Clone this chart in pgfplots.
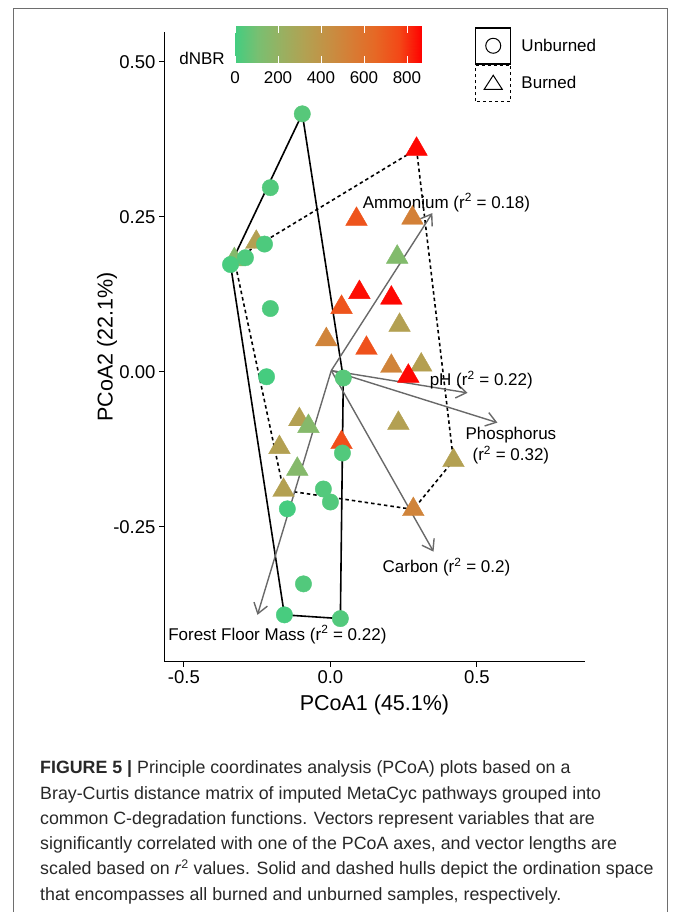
\documentclass[border=0pt]{standalone}
\usepackage{fontspec}
\setmainfont{Liberation Sans}
\usepackage{pgfplots}
\usepackage{pgfplotstable}
\pgfplotsset{compat=1.18}
\usetikzlibrary{arrows.meta}
\definecolor{vec}{RGB}{105,105,105}
\definecolor{framegray}{RGB}{110,110,110}
\definecolor{captext}{RGB}{40,40,40}
\pgfplotsset{colormap={dnbr}{rgb255=(67,205,128) rgb255=(121,191,113) rgb255=(153,176,97) rgb255=(178,161,82) rgb255=(198,143,67) rgb255=(215,124,52) rgb255=(230,104,37) rgb255=(243,72,23) rgb255=(255,0,0)}}

\pgfplotstableread{
x y c
-0.096 0.416 40
-0.205 0.297 30
-0.225 0.206 20
-0.290 0.184 20
-0.341 0.173 10
-0.205 0.102 20
-0.218 -0.008 5
0.044 -0.010 40
0.041 -0.131 30
-0.024 -0.189 30
0.000 -0.210 30
-0.147 -0.221 5
-0.092 -0.342 30
-0.157 -0.392 10
0.034 -0.398 30
}\unburned

\pgfplotstableread{
x y c
0.294 0.359 860
0.089 0.246 720
0.280 0.248 520
0.228 0.185 140
0.099 0.128 850
0.208 0.119 860
0.038 0.104 720
0.236 0.075 330
-0.014 0.052 500
0.123 0.038 730
0.208 0.009 500
0.310 0.011 340
0.266 -0.007 860
-0.106 -0.077 330
-0.075 -0.088 150
0.232 -0.083 330
0.038 -0.114 740
-0.174 -0.122 330
-0.113 -0.157 150
-0.160 -0.191 330
0.283 -0.222 500
0.420 -0.143 330
-0.253 0.209 330
-0.328 0.181 150
}\burned

\begin{document}
\begin{tikzpicture}[x=1pt,y=1pt]
\path[use as bounding box] (0,0) rectangle (673,912);
\draw[framegray, line width=0.8pt] (13.5,0) -- (13.5,904) -- (667,904) -- (667,0);
\begin{axis}[
  at={(164pt,250pt)}, anchor=south west, scale only axis,
  width=421pt, height=630pt,
  xmin=-0.568, xmax=0.869, ymin=-0.468, ymax=0.548,
  axis x line=bottom, axis y line=left,
  axis line style={-, line width=1pt, black},
  x axis line style={-}, y axis line style={-},
  tick align=outside, major tick length=5pt,
  tick style={black, line width=0.9pt},
  xtick={-0.5,0,0.5}, xticklabels={-0.5,0.0,0.5},
  ytick={-0.25,0,0.25,0.5}, yticklabels={-0.25,0.00,0.25,0.50},
  ticklabel style={font=\fontsize{18.5}{18.5}\selectfont},
  xlabel={PCoA1 (45.1\%)}, ylabel={PCoA2 (22.1\%)},
  label style={font=\fontsize{21.5}{21.5}\selectfont},
  xlabel style={at={(axis description cs:0.5,-0.0683)}, anchor=center},
  ylabel style={at={(axis description cs:-0.1354,0.5)}, anchor=center},
  colormap name=dnbr, point meta min=0, point meta max=870,
  legend style={at={(0.7387,1.0079)}, anchor=north west, draw=none, fill=none,
    inner sep=0pt, outer sep=0pt, row sep=0pt, column sep=10pt,
    font=\fontsize{17}{17}\selectfont, nodes={inner sep=0pt}},
  legend cell align=left,
  clip=false,
]
\addplot[scatter, only marks, mark=triangle*, mark size=12.5pt, scatter src=explicit,
  scatter/use mapped color={draw=mapped color, fill=mapped color}, forget plot]
  table[x=x, y=y, meta=c] {\burned};
\addplot[scatter, only marks, mark=*, mark size=8.2pt, scatter src=explicit,
  scatter/use mapped color={draw=mapped color, fill=mapped color}, forget plot]
  table[x=x, y=y, meta=c] {\unburned};
% hulls
\addplot[black, line width=1.6pt, no marks, line join=round, forget plot] coordinates {
  (-0.096,0.416) (0.044,-0.010) (0.034,-0.398) (-0.157,-0.392) (-0.341,0.173) (-0.096,0.416)};
\addplot[black, line width=1.6pt, no marks, dash pattern=on 3.5pt off 3pt, forget plot] coordinates {
  (0.294,0.359) (0.420,-0.143) (0.283,-0.222) (-0.160,-0.191) (-0.328,0.181) (0.294,0.359)};
% vectors
\addplot[vec, line width=1.4pt, no marks, -{Straight Barb[length=10pt,width=14pt]}, forget plot] coordinates {(0.003,0.002) (0.348,0.256)};
\addplot[vec, line width=1.4pt, no marks, -{Straight Barb[length=10pt,width=14pt]}, forget plot] coordinates {(0.003,0.002) (0.468,-0.034)};
\addplot[vec, line width=1.4pt, no marks, -{Straight Barb[length=10pt,width=14pt]}, forget plot] coordinates {(0.003,0.002) (0.570,-0.082)};
\addplot[vec, line width=1.4pt, no marks, -{Straight Barb[length=10pt,width=14pt]}, forget plot] coordinates {(0.003,0.002) (0.352,-0.290)};
\addplot[vec, line width=1.4pt, no marks, -{Straight Barb[length=10pt,width=14pt]}, forget plot] coordinates {(0.003,0.002) (-0.249,-0.392)};
% vector labels
\node[font=\fontsize{17}{17}\selectfont] at (axis cs:0.396,0.273) {Ammonium (r\textsuperscript{2} = 0.18)};
\node[font=\fontsize{17}{17}\selectfont] at (axis cs:0.515,-0.013) {pH (r\textsuperscript{2} = 0.22)};
\node[font=\fontsize{17}{21}\selectfont, align=center] at (axis cs:0.616,-0.119) {Phosphorus\\(r\textsuperscript{2} = 0.32)};
\node[font=\fontsize{17}{17}\selectfont] at (axis cs:0.396,-0.315) {Carbon (r\textsuperscript{2} = 0.2)};
\node[font=\fontsize{17}{17}\selectfont] at (axis cs:-0.181,-0.424) {Forest Floor Mass (r\textsuperscript{2} = 0.22)};
% legend
\addlegendimage{legend image code/.code={\draw[black, line width=1.5pt] (0pt,-18pt) rectangle (35pt,18pt); \draw[black, line width=1pt] (17.5pt,0pt) circle (7.5pt);}}
\addlegendentry{Unburned}
\addlegendimage{legend image code/.code={\draw[black, line width=1.5pt, dash pattern=on 3pt off 3pt] (0pt,-18pt) rectangle (35pt,18pt); \draw[black, line width=1pt, line join=miter] (17.5pt,8pt) -- (26.5pt,-6pt) -- (8.5pt,-6pt) -- cycle;}}
\addlegendentry{Burned}
\end{axis}
% colour bar
\begin{axis}[
  at={(235pt,849pt)}, anchor=south west, scale only axis,
  width=187pt, height=37pt,
  xmin=0, xmax=870, ymin=0, ymax=1,
  axis line style={draw=none}, ytick=\empty,
  xtick={0,200,400,600,800}, xticklabels={0,200,400,600,800},
  xtick pos=both, xticklabel pos=lower,
  tick align=inside, major tick length=7pt,
  xtick style={white, line width=0.9pt},
  xticklabel style={font=\fontsize{17}{17}\selectfont, yshift=-5pt},
  axis on top,
  colormap name=dnbr, point meta min=0, point meta max=870,
]
\addplot[surf, shader=interp, point meta=x, mesh/cols=9] coordinates {
  (0,0) (108.75,0) (217.5,0) (326.25,0) (435,0) (543.75,0) (652.5,0) (761.25,0) (870,0)
  (0,1) (108.75,1) (217.5,1) (326.25,1) (435,1) (543.75,1) (652.5,1) (761.25,1) (870,1)};
\end{axis}
\node[font=\fontsize{17}{17}\selectfont] at (202,854) {dNBR};
% caption
\begin{scope}[every node/.style={anchor=base west, inner sep=0pt, font=\fontsize{17.8}{17.8}\selectfont, text=captext}]
\node at (40,138) {\textbf{FIGURE 5 |} Principle coordinates analysis (PCoA) plots based on a};
\node at (40,112.8) {Bray-Curtis distance matrix of imputed MetaCyc pathways grouped into};
\node at (40,87.6) {common C-degradation functions. Vectors represent variables that are};
\node at (40,62.4) {significantly correlated with one of the PCoA axes, and vector lengths are};
\node at (40,37.2) {scaled based on \textit{r}\textsuperscript{2} values. Solid and dashed hulls depict the ordination space};
\node at (40,12) {that encompasses all burned and unburned samples, respectively.};
\end{scope}
\end{tikzpicture}
\end{document}
